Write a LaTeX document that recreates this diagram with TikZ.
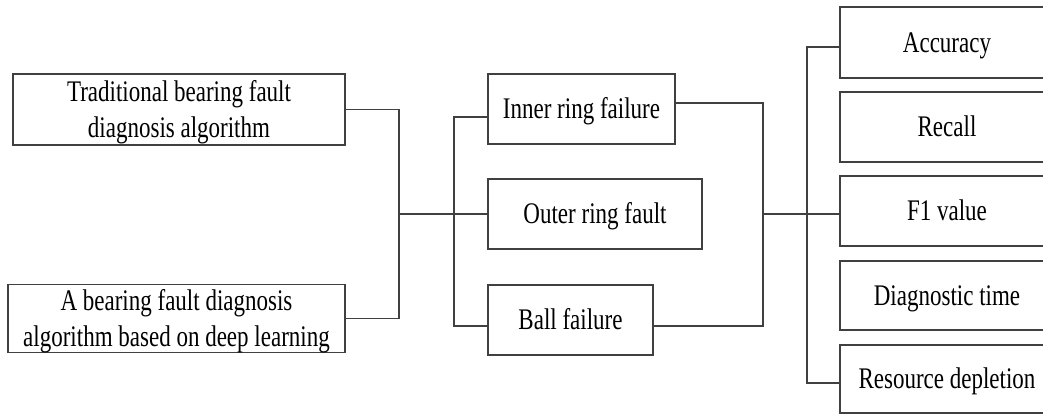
\documentclass[tikz,border=0pt]{standalone}
\usepackage{fontspec}
\usepackage{graphicx}
\setmainfont{Liberation Serif}
% tall, narrow-looking lettering
\newcommand\tall[1]{\scalebox{1}[1.3]{#1}}
\begin{document}
\begin{tikzpicture}[x=0.75pt, y=-0.75pt,
  box/.style={draw=linegray, line width=1.4pt, rectangle, inner sep=0pt,
    align=center, font=\fontsize{17.25}{27}\selectfont, text=black,
    text height=14.8pt, text depth=0pt},
  twoline/.style={text height=41.8pt, text depth=0pt},
  sz/.style 2 args={minimum width=#1*0.75pt, minimum height=#2*0.75pt},
  link/.style={draw=linegray, line width=1.4pt}]
\definecolor{linegray}{HTML}{404040}
\useasboundingbox (0,0) rectangle (1043,414);

% method boxes
\node[box, twoline, sz={332}{71}] (trad) at (179,109.5)
  {\tall{Traditional bearing fault}\\\tall{diagnosis algorithm}};
\node[box, twoline, sz={337}{68}] (deep) at (176.5,318.5)
  {\tall{A bearing fault diagnosis}\\\tall{algorithm based on deep learning}};

% fault type boxes
\node[box, sz={187}{70}] (inner) at (581.5,109) {\tall{Inner ring failure}};
\node[box, sz={214}{70}] (outer) at (595,214) {\tall{Outer ring fault}};
\node[box, sz={165}{70}] (ball) at (570.5,320) {\tall{Ball failure}};

% evaluation index boxes
\node[box, sz={214}{71}] (acc) at (947,42.5) {\tall{Accuracy}};
\node[box, sz={214}{70}] (rec) at (947,127) {\tall{Recall}};
\node[box, sz={214}{70}] (f1) at (947,211) {\tall{F1 value}};
\node[box, sz={214}{69}] (diag) at (947,295.5) {\tall{Diagnostic time}};
\node[box, sz={214}{68}] (res) at (947,379) {\tall{Resource depletion}};

% junction points
\coordinate (jl) at (399,214);
\coordinate (jm) at (454,214);
\coordinate (jr) at (763,214);
\coordinate (jx) at (807,214);

% methods -> fault types
\draw[link] (trad.east) -| (jl) |- (deep.east);
\draw[link] (jl) -- (outer.west);
\draw[link] ([yshift=-6pt]inner.west) -| (jm) |- ([yshift=-4.5pt]ball.west);

% fault types -> indices
\draw[link] ([yshift=4.5pt]inner.east) -| (jr) |- ([yshift=-4.5pt]ball.east);
\draw[link] (jr) -- (f1.west |- jr);
\draw[link] ([yshift=-3.4pt]acc.west) -| (jx) |- ([yshift=-3pt]res.west);
\end{tikzpicture}
\end{document}
